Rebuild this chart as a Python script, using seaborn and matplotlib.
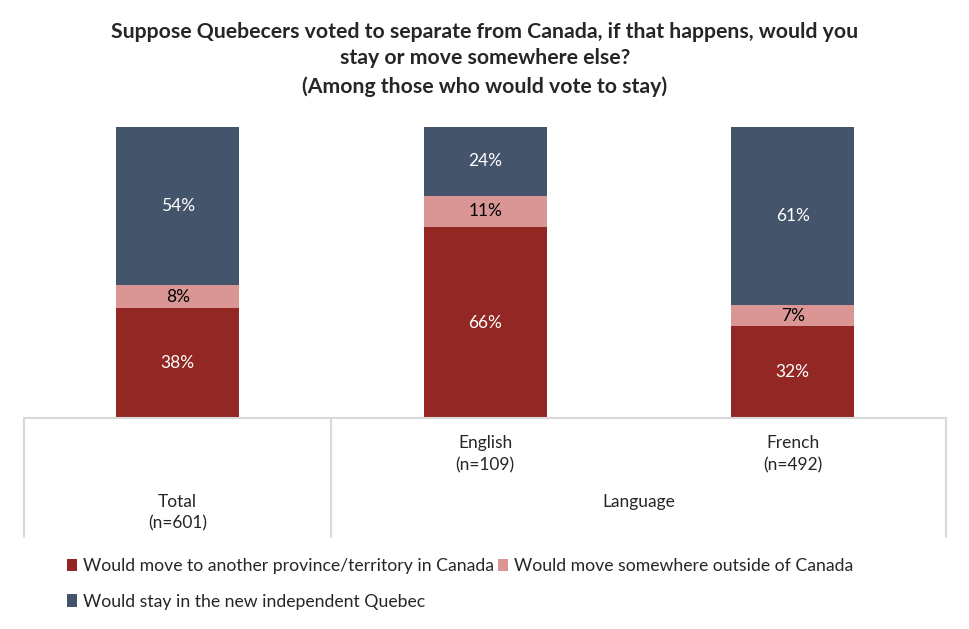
import matplotlib
matplotlib.use("Agg")
import matplotlib.pyplot as plt
from matplotlib.patches import Patch
import seaborn as sns
import pandas as pd
import numpy as np

categories = ["Total", "English", "French"]
move_canada = [37.8, 65.6, 31.6]
move_outside = [7.9, 10.8, 7.2]
stay_quebec = [54.3, 23.6, 61.2]
series_names = ["Would move to another province/territory in Canada",
                "Would move somewhere outside of Canada",
                "Would stay in the new independent Quebec"]
sample_sizes = ["(n=601)", "(n=109)", "(n=492)"]
group_label = "Language"
title_lines = ["Suppose Quebecers voted to separate from Canada, if that happens, would you",
               "stay or move somewhere else?",
               "(Among those who would vote to stay)"]

colors = ["#922723", "#D99694", "#44546A"]
text_colors = ["white", "black", "white"]

sns.set_theme(style="white")
plt.rcParams['font.family'] = ['Lato', 'DejaVu Sans']

fig = plt.figure(figsize=(9.7, 6.29), dpi=100)
ax = fig.add_axes([24/970, (629-418)/629, (946.5-24)/970, 291/629])

series = [move_canada, move_outside, stay_quebec]
bottom = np.zeros(len(categories))
for vals, name, col, tcol in zip(series, series_names, colors, text_colors):
    df = pd.DataFrame({"cat": categories, "val": vals})
    sns.barplot(data=df, x="cat", y="val", order=categories, color=col,
                width=0.4, bottom=bottom, ax=ax, saturation=1, linewidth=0)
    for i, v in enumerate(vals):
        ax.text(i, bottom[i] + v / 2, f"{round(v):.0f}%", ha="center", va="center",
                color=tcol, fontsize=12.5)
    bottom = bottom + np.array(vals)

ax.set_xlim(-0.5, 2.5)
ax.set_ylim(0, 100)
for s in ax.spines.values():
    s.set_visible(False)
ax.set_xticks([])
ax.set_yticks([])
ax.set_xlabel("")
ax.set_ylabel("")

grid_col = "#D9D9D9"
ax.axhline(0, color=grid_col, lw=1.5, clip_on=False)
tr = ax.get_xaxis_transform()
ybot = (418 - 537) / 291
for xv in [-0.5, 0.5, 2.5]:
    ax.plot([xv, xv], [0, ybot], color=grid_col, lw=1.5, transform=tr, clip_on=False)

def yfrac(py):
    return (418 - py) / 291

fs_tab = 12.5
ax.text(0, yfrac(502), "Total", transform=tr, ha="center", va="center", fontsize=fs_tab)
ax.text(0, yfrac(523), sample_sizes[0], transform=tr, ha="center", va="center", fontsize=fs_tab)
for i in [1, 2]:
    ax.text(i, yfrac(443), categories[i], transform=tr, ha="center", va="center", fontsize=fs_tab)
    ax.text(i, yfrac(465), sample_sizes[i], transform=tr, ha="center", va="center", fontsize=fs_tab)
ax.text(1.5, yfrac(502), group_label, transform=tr, ha="center", va="center", fontsize=fs_tab)

for py, line in zip([32, 58, 87], title_lines):
    fig.text(0.5, 1 - py / 629, line, ha="center", va="center", fontsize=15.3, fontweight="bold")

handles = [Patch(facecolor=c, edgecolor="none") for c in colors]
order = [0, 2, 1]
leg = fig.legend([handles[i] for i in order], [series_names[i] for i in order],
                 ncol=2, loc="upper left", bbox_to_anchor=(67/970, 1 - 558/629),
                 frameon=False, fontsize=12.7, handlelength=0.57, handleheight=0.7,
                 handletextpad=0.34, columnspacing=0.23, labelspacing=1.12, borderpad=0,
                 borderaxespad=0)

fig.savefig("out.png", dpi=100)
